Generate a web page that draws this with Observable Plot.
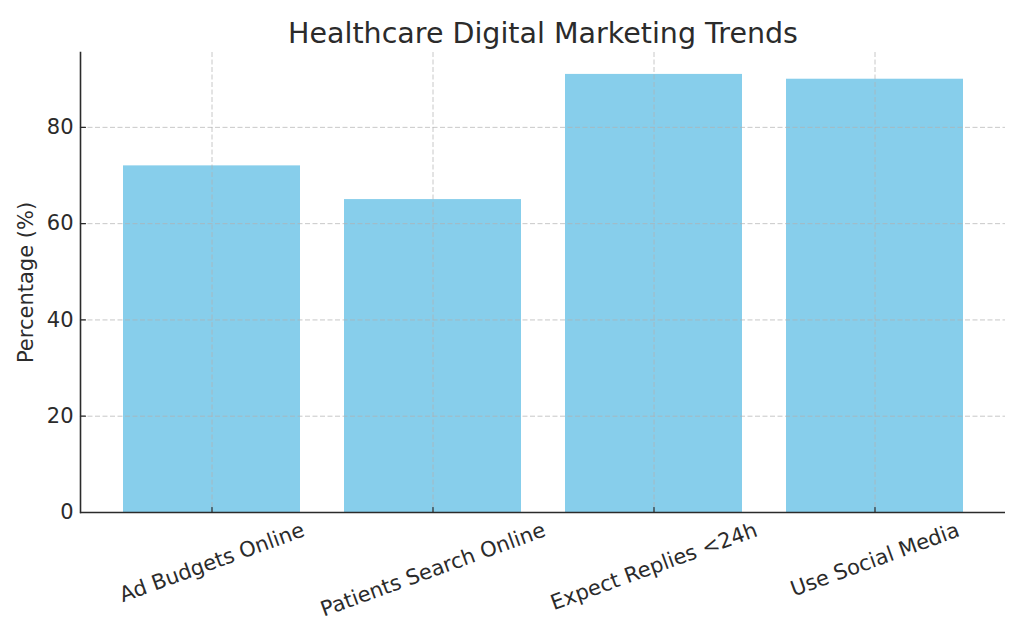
<!DOCTYPE html>
<html><head><meta charset="utf-8">
<script src="https://cdn.jsdelivr.net/npm/d3@7"></script>
<script src="https://cdn.jsdelivr.net/npm/@observablehq/plot@0.6"></script>
<style>body{margin:0;background:#fff}</style>
</head><body><div id="chart"></div>
<script>
const categories = ["Ad Budgets Online", "Patients Search Online", "Expect Replies <24h", "Use Social Media"];
const values = [72, 65, 91, 90];
const yTicks = [0, 20, 40, 60, 80];
const title = "Healthcare Digital Marketing Trends";
const yLabel = "Percentage (%)";

const data = categories.map((c, i) => ({category: c, value: values[i]}));

const FONT = "DejaVu Sans";
const FS = 21;
const ink = "#2b2b2b";
const gridStyle = {stroke: "#b0b0b0", strokeOpacity: 0.7, strokeDasharray: "5,2.5", strokeWidth: 1};
const tickShape = {draw(context, l) { context.moveTo(0, 0); context.lineTo(0, -l); }};

// measure label lengths to center rotated labels like matplotlib (bbox top just below axis)
const ctx = document.createElement("canvas").getContext("2d");
ctx.font = `${FS}px "${FONT}"`;
const rot = 20 * Math.PI / 180;
const lineH = FS * 1.1;
const labelMarks = categories.map(c => {
  const L = ctx.measureText(c).width;
  const off = 6 + (L * Math.sin(rot) + lineH * Math.cos(rot)) / 2;
  return Plot.text([c], {x: d => d, frameAnchor: "bottom", dy: off, rotate: -20,
    textAnchor: "middle", lineAnchor: "middle", fontSize: FS, fill: ink});
});

const chart = Plot.plot({
  width: 1024,
  height: 640,
  marginLeft: 80,
  marginRight: 19,
  marginTop: 52,
  marginBottom: 128,
  style: {fontFamily: FONT, fontSize: FS + "px", color: ink, background: "white"},
  x: {domain: categories, paddingInner: 0.2, paddingOuter: 0.19, axis: null},
  y: {domain: [0, Math.max(...values) * 1.05], axis: null},
  marks: [
    Plot.barY(data, {x: "category", y: "value", fill: "#87CEEB"}),
    Plot.ruleY(yTicks, {y: d => d, ...gridStyle}),
    Plot.ruleX(categories, {x: d => d, ...gridStyle}),
    Plot.ruleY([0], {stroke: ink, strokeWidth: 1.6}),
    Plot.frame({anchor: "left", stroke: ink, strokeWidth: 1.6}),
    Plot.vector(yTicks, {y: d => d, frameAnchor: "left", rotate: 90, length: 5, anchor: "start", shape: tickShape, stroke: ink, strokeWidth: 1.2}),
    Plot.vector(categories, {x: d => d, frameAnchor: "bottom", rotate: 0, length: 5, anchor: "start", shape: tickShape, stroke: ink, strokeWidth: 1.2}),
    Plot.text(yTicks, {y: d => d, text: d => String(d), frameAnchor: "left", dx: -7, textAnchor: "end", lineAnchor: "middle", fontSize: FS, fill: ink}),
    ...labelMarks,
    Plot.text([yLabel], {frameAnchor: "left", dx: -54, rotate: -90, textAnchor: "middle", lineAnchor: "middle", fontSize: FS, fill: ink}),
    Plot.text([title], {frameAnchor: "top", dy: -19, textAnchor: "middle", lineAnchor: "middle", fontSize: 28.5, fill: ink})
  ]
});
document.getElementById("chart").appendChild(chart);
</script>
</body></html>
